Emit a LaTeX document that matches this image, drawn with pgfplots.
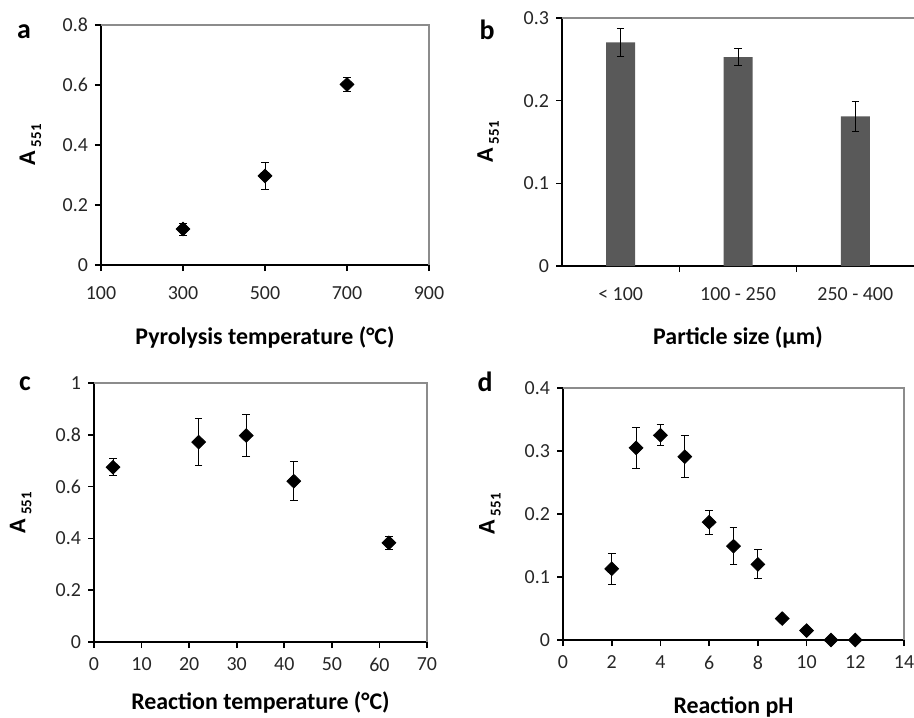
\documentclass[border=0pt]{standalone}
\usepackage{fontspec}
\setmainfont{Carlito}
\usepackage{pgfplots}
\pgfplotsset{compat=1.18}

\definecolor{barfill}{RGB}{89,89,89}
\definecolor{framegray}{RGB}{140,140,140}

\pgfplotsset{
  panel/.style={
    scale only axis,
    anchor=south west,
    axis lines=left,
    axis line style={black, line width=0.8pt, -},
    tick align=outside,
    major tick length=3bp,
    minor tick length=3bp,
    tick style={black, line width=0.8pt},
    ticklabel style={font=\fontsize{10}{11}\selectfont, text=black!85},
    /pgf/number format/assume math mode=true,
    yticklabel style={/pgf/number format/.cd, fixed, precision=1},
    label style={font=\bfseries\fontsize{12}{13}\selectfont},
    ylabel={\fontsize{12}{13}\selectfont A\,\raisebox{-0.25em}{\fontsize{7.5}{8}\selectfont 551}},
    ylabel style={anchor=center},
    xlabel style={anchor=center},
    error bars/error bar style={black, line width=0.5pt},
    error bars/error mark options={rotate=90, mark size=1.9bp, black, line width=0.5pt},
  },
  frame all/.style={after end axis/.code={%
    \draw[framegray, line width=0.6pt] (rel axis cs:0,1) -- (rel axis cs:1,1) -- (rel axis cs:1,0);}},
  frame top/.style={after end axis/.code={%
    \draw[framegray, line width=0.6pt] (rel axis cs:0,1) -- (rel axis cs:1,1);}},
  dmark/.style={only marks, mark=diamond*, mark size=3.4bp,
    mark options={black, xscale=1.35}},
}

\begin{document}
\begin{tikzpicture}
\path[use as bounding box] (0,0) rectangle (457bp,-359bp);

% panel a
\begin{axis}[panel, frame all,
  at={(50.5bp,-132.5bp)}, width=164bp, height=120bp,
  xmin=100, xmax=900, xtick={100,300,500,700,900},
  xticklabel style={yshift=-4.5bp},
  ymin=0, ymax=0.8, ytick={0,0.2,0.4,0.6,0.8},
  xlabel={Pyrolysis temperature (°C)},
  xlabel style={at={(axis description cs:0.5,-0.304)}},
  ylabel style={at={(axis description cs:-0.215,0.5)}},
]
\addplot[dmark, error bars/.cd, y dir=both, y explicit] coordinates {
  (300,0.120) +- (0,0.020)
  (500,0.297) +- (0,0.044)
  (700,0.602) +- (0,0.024)
};
\end{axis}

% panel b
\begin{axis}[panel, frame top,
  at={(281bp,-133bp)}, width=176bp, height=124bp,
  xmin=-0.5, xmax=2.5, xtick={0,1,2},
  xticklabels={< 100, 100 - 250, 250 - 400},
  xticklabel style={yshift=-4.5bp},
  major x tick style={draw=none},
  minor xtick={0.5,1.5},
  ymin=0, ymax=0.3, ytick={0,0.1,0.2,0.3},
  xlabel={Particle size (µm)},
  xlabel style={at={(axis description cs:0.5,-0.29)}},
  ylabel style={at={(axis description cs:-0.21,0.5)}},
]
\addplot[ybar, bar width=14.5bp, fill=barfill, draw=none,
  error bars/.cd, y dir=both, y explicit] coordinates {
  (0,0.2705) +- (0,0.0165)
  (1,0.2527) +- (0,0.0105)
  (2,0.1810) +- (0,0.0185)
};
\end{axis}

% panel c
\begin{axis}[panel, frame all,
  at={(47bp,-321bp)}, width=166.5bp, height=129.5bp,
  xmin=0, xmax=70, xtick={0,10,...,70},
  xticklabel style={yshift=-1.5bp},
  ymin=0, ymax=1, ytick={0,0.2,0.4,0.6,0.8,1},
  xlabel={Reaction temperature (°C)},
  xlabel style={at={(axis description cs:0.5,-0.232)}},
  ylabel style={at={(axis description cs:-0.22,0.5)}},
]
\addplot[dmark, error bars/.cd, y dir=both, y explicit] coordinates {
  (4,0.675) +- (0,0.033)
  (22,0.772) +- (0,0.090)
  (32,0.797) +- (0,0.080)
  (42,0.621) +- (0,0.075)
  (62,0.383) +- (0,0.025)
};
\end{axis}

% panel d
\begin{axis}[panel, frame all,
  at={(281.5bp,-320bp)}, width=170.5bp, height=126bp,
  xmin=0, xmax=14, xtick={0,2,...,14},
  xticklabel style={yshift=-1.5bp},
  ymin=0, ymax=0.4, ytick={0,0.1,0.2,0.3,0.4},
  xlabel={Reaction pH},
  xlabel style={at={(axis description cs:0.5,-0.266)}},
  ylabel style={at={(axis description cs:-0.214,0.5)}},
]
\addplot[dmark, error bars/.cd, y dir=both, y explicit] coordinates {
  (2,0.113) +- (0,0.025)
  (3,0.305) +- (0,0.033)
  (4,0.325) +- (0,0.017)
  (5,0.291) +- (0,0.033)
  (6,0.187) +- (0,0.019)
  (7,0.149) +- (0,0.029)
  (8,0.120) +- (0,0.023)
  (9,0.034) +- (0,0.004)
  (10,0.015) +- (0,0.003)
  (11,0.000) +- (0,0.001)
  (12,0.000) +- (0,0.001)
};
\end{axis}

% panel letters
\begin{scope}[every node/.style={font=\bfseries\fontsize{14}{14}\selectfont, anchor=center}]
\node at (12bp,-16bp) {a};
\node at (243.5bp,-15bp) {b};
\node at (12.5bp,-192bp) {c};
\node at (242.5bp,-191bp) {d};
\end{scope}
\end{tikzpicture}
\end{document}
